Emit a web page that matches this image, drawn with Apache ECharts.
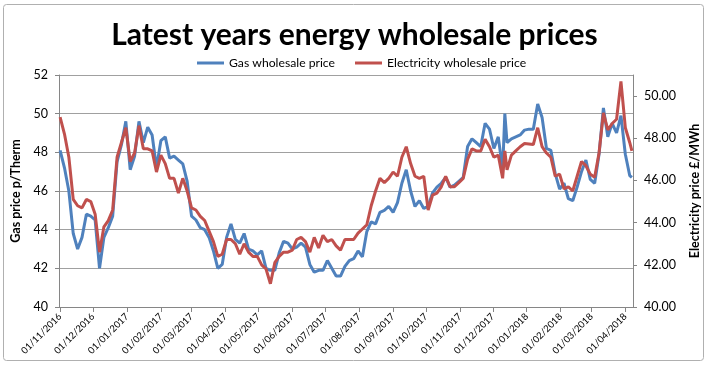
<!DOCTYPE html>
<html><head><meta charset="utf-8">
<script src="https://cdn.jsdelivr.net/npm/echarts@6/dist/echarts.min.js"></script>
<style>html,body{margin:0;padding:0;background:#fff}#c{width:709px;height:367px}</style>
</head><body><div id="c"></div>
<script>
const dates = [
'2016-11-01','2016-11-05','2016-11-09','2016-11-13','2016-11-17','2016-11-21','2016-11-25','2016-11-29',
'2016-12-03','2016-12-07','2016-12-11','2016-12-15','2016-12-19','2016-12-23','2016-12-27','2016-12-31',
'2017-01-04','2017-01-08','2017-01-12','2017-01-16','2017-01-20','2017-01-24','2017-01-28','2017-02-01',
'2017-02-05','2017-02-09','2017-02-13','2017-02-17','2017-02-21','2017-02-25','2017-03-01','2017-03-05',
'2017-03-09','2017-03-13','2017-03-17','2017-03-21','2017-03-25','2017-03-29','2017-04-02','2017-04-06',
'2017-04-10','2017-04-14','2017-04-18','2017-04-22','2017-04-26','2017-04-30','2017-05-04','2017-05-08',
'2017-05-12','2017-05-16','2017-05-20','2017-05-24','2017-05-28','2017-06-01','2017-06-05','2017-06-09',
'2017-06-13','2017-06-17','2017-06-21','2017-06-25','2017-06-29','2017-07-03','2017-07-07','2017-07-11',
'2017-07-15','2017-07-19','2017-07-23','2017-07-27','2017-07-31','2017-08-04','2017-08-08','2017-08-12',
'2017-08-16','2017-08-20','2017-08-24','2017-08-28','2017-09-01','2017-09-05','2017-09-09','2017-09-13',
'2017-09-17','2017-09-21','2017-09-25','2017-09-29','2017-10-03','2017-10-07','2017-10-11','2017-10-15',
'2017-10-19','2017-10-23','2017-10-27','2017-10-31','2017-11-04','2017-11-08','2017-11-12','2017-11-16',
'2017-11-20','2017-11-24','2017-11-28','2017-12-02','2017-12-06','2017-12-10','2017-12-12','2017-12-14','2017-12-18',
'2017-12-22','2017-12-26','2017-12-30','2018-01-03','2018-01-07','2018-01-11','2018-01-15','2018-01-19',
'2018-01-23','2018-01-27','2018-01-31','2018-02-04','2018-02-08','2018-02-12','2018-02-16','2018-02-20',
'2018-02-24','2018-02-28','2018-03-04','2018-03-08','2018-03-12','2018-03-16','2018-03-20','2018-03-24',
'2018-03-28','2018-04-01','2018-04-05','2018-04-07'
];
const gasPrice = [
48.1,47.2,46.0,43.8,43.0,43.6,44.8,44.7,
44.5,42.0,43.6,44.1,44.7,47.5,48.4,49.6,
47.1,47.8,49.6,48.5,49.3,48.9,47.2,48.6,
48.8,47.7,47.8,47.6,47.4,46.5,44.7,44.5,
44.1,44.0,43.6,42.9,42.0,42.2,43.6,44.3,
43.5,43.3,43.8,43.0,42.9,42.7,42.9,42.0,
41.9,41.9,42.8,43.4,43.3,43.0,43.1,43.3,
43.1,42.2,41.8,41.9,41.9,42.4,42.0,41.6,
41.6,42.1,42.4,42.5,42.9,42.6,43.9,44.4,
44.3,44.9,45.0,45.2,44.9,45.4,46.4,47.1,
46.0,45.2,45.5,45.1,45.2,45.9,46.2,46.4,
46.7,46.2,46.3,46.5,46.7,48.3,48.7,48.5,
48.3,49.5,49.2,48.2,48.8,47.1,50.0,48.5,48.7,
48.8,48.9,49.15,49.2,49.2,50.5,49.8,48.2,
48.1,46.9,46.1,46.4,45.6,45.5,46.2,47.0,
47.6,46.6,46.4,47.9,50.3,48.8,49.5,49.0,
49.9,47.9,46.8,46.7
];
const elecPrice = [
49.0,48.2,47.1,45.1,44.8,44.7,45.1,45.0,
44.4,42.6,43.8,44.1,44.6,47.1,47.8,48.5,
46.9,47.3,48.6,47.5,47.5,47.4,46.4,47.2,
46.8,46.1,46.1,45.4,46.1,45.5,44.7,44.6,
44.3,44.1,43.6,43.1,42.4,42.5,43.2,43.2,
43.0,42.5,43.0,42.6,42.4,42.4,42.0,41.8,
41.1,42.1,42.4,42.6,42.6,42.7,43.2,43.3,
43.1,42.6,43.3,42.8,43.4,43.1,43.2,42.9,
42.7,43.2,43.2,43.2,43.5,43.7,43.9,44.8,
45.5,46.1,45.9,46.1,46.4,46.2,47.1,47.6,
46.8,46.2,46.1,46.2,44.6,45.3,45.4,45.7,
46.2,45.7,45.7,45.9,46.1,47.0,47.5,47.4,
47.4,47.95,47.6,47.1,47.2,46.1,47.4,46.5,47.2,
47.4,47.6,47.75,47.73,47.7,48.5,47.6,47.3,
47.1,46.2,46.3,45.6,45.7,45.5,46.2,46.9,
46.7,46.3,46.15,47.3,49.2,48.4,48.7,48.9,
50.7,48.5,47.8,47.4
];
const gasTicks = [40,42,44,46,48,50,52];
const elecTicks = [40,42,44,46,48,50];
const xStart = [2016,9,31];
const xEnd = [2018,3,8];

const FONT = 'Lato';
const pad = n => (n < 10 ? '0' : '') + n;
const chart = echarts.init(document.getElementById('c'));
chart.setOption({
  animation: false,
  backgroundColor: '#fff',
  title: {
    text: 'Latest years energy wholesale prices',
    left: 'center', top: 15,
    textStyle: {fontFamily: FONT, fontSize: 30, fontWeight: 'bold', color: '#000'}
  },
  legend: {
    top: 52, left: 192,
    itemWidth: 27, itemHeight: 3, itemGap: 20,
    icon: 'rect',
    textStyle: {fontFamily: FONT, fontSize: 12.2, color: '#000'},
    data: ['Gas wholesale price', 'Electricity wholesale price']
  },
  graphic: [{
    type: 'rect', silent: true, z: -10,
    shape: {x: 3.5, y: 4.5, width: 700, height: 356, r: 3},
    style: {fill: 'none', stroke: '#b0b0b0', lineWidth: 1}
  }],
  grid: {left: 59, right: 68, top: 75, bottom: 60, containLabel: false},
  xAxis: {
    type: 'time',
    min: +new Date(xStart[0], xStart[1], xStart[2]),
    max: +new Date(xEnd[0], xEnd[1], xEnd[2]),
    splitNumber: 17,
    minInterval: 28 * 86400000,
    maxInterval: 31 * 86400000,
    axisLine: {lineStyle: {color: '#868686', width: 1}},
    axisTick: {show: true, length: 5, lineStyle: {color: '#868686'}},
    splitLine: {show: false},
    axisLabel: {
      rotate: 45, margin: 8, fontFamily: FONT, fontSize: 9.5, color: '#000',
      hideOverlap: false,
      formatter: function (v) {
        const d = new Date(v);
        return pad(d.getDate()) + '/' + pad(d.getMonth() + 1) + '/' + d.getFullYear();
      }
    }
  },
  yAxis: [{
    type: 'value', min: 40, max: 52, interval: 2,
    name: 'Gas price p/Therm', nameLocation: 'middle', nameGap: 31, nameRotate: 90,
    nameTextStyle: {fontFamily: FONT, fontSize: 12.5, fontWeight: 'bold', color: '#000'},
    axisLine: {show: true, lineStyle: {color: '#868686'}},
    axisTick: {show: true, length: 4, lineStyle: {color: '#868686'}},
    splitLine: {show: true, lineStyle: {color: '#a0a0a0', width: 1.2}},
    axisLabel: {fontFamily: FONT, fontSize: 12.5, color: '#000', margin: 11,
      customValues: gasTicks}
  }, {
    type: 'value', min: 40, max: 51, position: 'right',
    name: 'Electricity price £/MWh', nameLocation: 'middle', nameGap: 55, nameRotate: 90,
    nameTextStyle: {fontFamily: FONT, fontSize: 12.5, fontWeight: 'bold', color: '#000'},
    axisLine: {show: true, lineStyle: {color: '#868686'}},
    axisTick: {show: true, length: 4, lineStyle: {color: '#868686'}, customValues: elecTicks},
    splitLine: {show: false},
    axisLabel: {fontFamily: FONT, fontSize: 12.5, color: '#000', margin: 11,
      customValues: elecTicks, formatter: v => v.toFixed(2)}
  }],
  series: [{
    name: 'Gas wholesale price', type: 'line', yAxisIndex: 0,
    showSymbol: false, symbol: 'none',
    lineStyle: {color: '#4F81BD', width: 3},
    itemStyle: {color: '#4F81BD'},
    data: dates.map((d, i) => [d, gasPrice[i]])
  }, {
    name: 'Electricity wholesale price', type: 'line', yAxisIndex: 1,
    showSymbol: false, symbol: 'none',
    lineStyle: {color: '#C0504D', width: 3},
    itemStyle: {color: '#C0504D'},
    data: dates.map((d, i) => [d, elecPrice[i]])
  }]
});
</script>
</body></html>
